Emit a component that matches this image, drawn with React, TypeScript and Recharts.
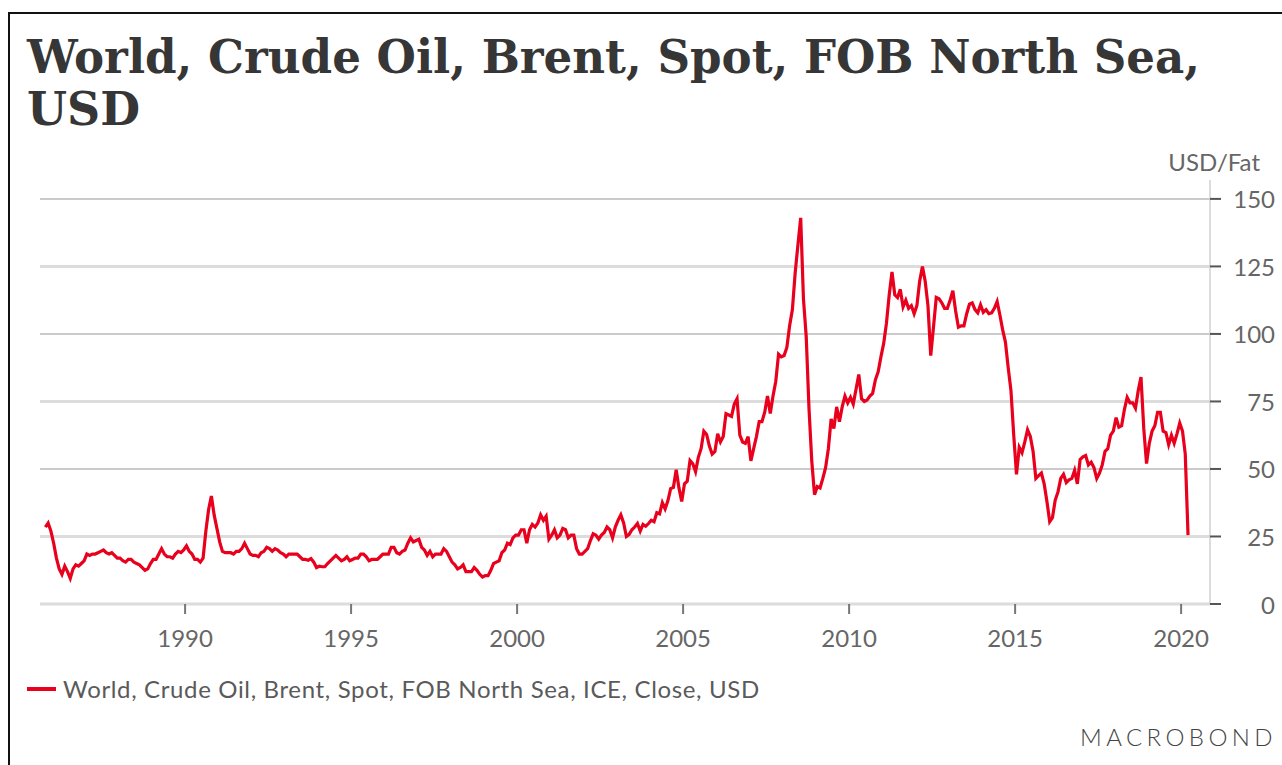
import React from "react";
import { LineChart, Line, XAxis, YAxis, CartesianGrid } from "recharts";

// Brent spot, USD per barrel, monthly (mid-month)
const firstYear = 1985;
const firstMonth = 10; // October

const brent1985 = [28.5, 30, 27];
const brent1986to1989 = [
  22.5, 17, 13, 11, 14, 12, 9.5, 13, 14.5, 14, 15, 16,
  18.5, 18, 18.5, 18.5, 19, 19.5, 20, 19, 18.5, 19, 18, 17,
  17, 16, 15.5, 16.5, 16.5, 15.5, 15, 14.5, 13.5, 12.5, 13, 15,
  16.5, 16.5, 18.5, 20.5, 18.5, 17.5, 17.5, 17, 18.5, 19.5, 19, 20,
];
const brent1990s = [
  21.5, 19.5, 18.5, 16.5, 16.5, 15.5, 17, 27, 35, 40, 33, 28,
  23, 19.5, 19, 19, 19, 18.5, 19.5, 19.5, 20.5, 22.5, 20.5, 18.5,
  18, 18, 17.5, 19, 19.5, 21, 20.5, 19.5, 20.5, 20, 19, 18.5,
  17.5, 18.5, 18.5, 18.5, 18.5, 17.5, 16.5, 16.5, 16.2, 16.8, 15.5, 13.5,
  14, 13.8, 13.8, 15, 16, 17, 18, 17, 16, 16.5, 17.5, 16,
  16.5, 17, 17, 18.5, 18.5, 17.5, 16, 16.5, 16.5, 16.5, 17.5, 18.5,
  18.5, 18.5, 21, 21, 19, 18.5, 19.5, 20, 22.5, 24.5, 23, 23.5,
  24, 21, 20, 18, 19.5, 17.5, 18.5, 18.5, 18.5, 20.5, 19.5, 17.5,
  15.5, 14.5, 13, 13.5, 14.5, 12, 12, 12, 13.5, 12.5, 11, 10,
  10.5, 10.5, 12.5, 15, 15.5, 16, 19, 20, 22.5, 22, 24.5, 25.5,
];
const brent2000s = [
  25.5, 27.5, 27.5, 22.5, 27.5, 29.5, 28.5, 30, 33, 31, 32.5, 24,
  25.5, 27.5, 24.5, 25.5, 28, 27.5, 24.5, 25.5, 25.5, 20.5, 18.5, 18.5,
  19.5, 20.5, 23.5, 26, 25.5, 24, 25.5, 26.5, 28.5, 27.5, 24.5, 28.5,
  31, 33, 30, 25, 25.8, 27.5, 28.5, 29.8, 27, 29.5, 28.8, 29.8,
  31, 30.5, 33.8, 33.4, 37.5, 35.2, 38.2, 42.7, 43.2, 49.7, 43, 38,
  44.5, 45.5, 53.1, 51.9, 49, 54.3, 57.5, 64, 62.8, 58.5, 55.5, 56.5,
  63, 60, 62, 70.5, 70, 69.5, 74, 76, 62.5, 60, 59.5, 62,
  53, 57.5, 62, 67.5, 67.5, 71, 77, 70.5, 77, 82.5, 92.5, 91.5,
  92, 95, 103, 109, 122.5, 133, 143, 113, 99, 72.5, 53, 40.5,
  43.5, 43, 46.5, 50.5, 57.5, 68.5, 65, 73, 67.5, 73, 77, 74.5,
];
const brent2010s = [
  76.5, 74, 79.5, 85, 76, 75, 75.5, 77, 78, 83, 86, 91.5,
  96.5, 104, 114.5, 123, 114.5, 113.5, 116.5, 110, 112.5, 109.5, 110.5, 107.5,
  110.5, 119.5, 125, 119.5, 110.5, 92, 102.5, 113.5, 113, 111.5, 109.5, 109.5,
  112.5, 116, 108.5, 102.5, 103, 103, 107.5, 111, 111.5, 109, 107.8, 110.8,
  108, 109, 107.5, 107.8, 109.5, 112, 107, 101.5, 97, 87.5, 79, 62.5,
  48, 58, 56, 60, 64.5, 62, 56.5, 46.5, 47.5, 48.5, 44.5, 38,
  30.5, 32, 38.5, 41.5, 46.5, 48, 45, 46, 46.5, 49.5, 44.5, 53.5,
  54.5, 55, 51.5, 52.5, 50.5, 46.5, 48.5, 51.5, 56.5, 57.5, 62.5, 64,
  69, 65.5, 66, 72, 76.5, 74.5, 74.5, 72.5, 79, 84, 65, 52,
  59.5, 64, 66, 71, 71, 64, 63.5, 59, 62.5, 59.5, 63, 67,
];
const brent2020 = [64, 55.5, 25.5];

const yearTicks = [1990, 1995, 2000, 2005, 2010, 2015, 2020];
const priceTicks = [0, 25, 50, 75, 100, 125, 150];
const lightGridValues = [0, 25, 75, 125];
const darkGridValues = [50, 100, 150];

const title1 = "World, Crude Oil, Brent, Spot, FOB North Sea,";
const title2 = "USD";
const unitLabel = "USD/Fat";
const seriesName = "World, Crude Oil, Brent, Spot, FOB North Sea, ICE, Close, USD";
const brand = "MACROBOND";

const prices = [...brent1985, ...brent1986to1989, ...brent1990s, ...brent2000s, ...brent2010s, ...brent2020];
const data = prices.map((price, i) => ({
  t: firstYear + (firstMonth - 1 + i + 0.5) / 12,
  price,
}));

const RED = "#e8001c";
const TEXT = "#666666";
const FONT = "Lato, 'Open Sans', sans-serif";

const PriceTick = (props: any) => {
  const { x, y, payload } = props;
  return (
    <text x={x + 52} y={y} textAnchor="end" dominantBaseline="central" fill={TEXT} fontSize={24} fontFamily={FONT}>
      {payload.value}
    </text>
  );
};

export default function App() {
  return (
    <div style={{ position: "absolute", left: 0, top: 0, width: 1282, height: 765, background: "#fff", overflow: "hidden" }}>
      <div style={{ position: "absolute", left: 8, top: 12, width: 1290, height: 770, borderLeft: "2px solid #111", borderTop: "2px solid #111" }} />
      <svg width={1282} height={140} style={{ position: "absolute", left: 0, top: 0 }}>
        <text x={27} y={73} fontFamily="'DejaVu Serif', serif" fontWeight="bold" fontSize={46} fill="#363636" textLength={1173} lengthAdjust="spacingAndGlyphs">
          {title1}
        </text>
        <text x={27} y={125} fontFamily="'DejaVu Serif', serif" fontWeight="bold" fontSize={46} fill="#363636" textLength={113} lengthAdjust="spacingAndGlyphs">
          {title2}
        </text>
      </svg>
      <div style={{ position: "absolute", left: 1120, width: 140, top: 147, textAlign: "right", fontFamily: FONT, fontSize: 24, color: TEXT }}>
        {unitLabel}
      </div>
      <div style={{ position: "absolute", left: 0, top: 0 }}>
        <LineChart width={1282} height={765} data={data} margin={{ top: 180, right: 0, left: 40, bottom: 111 }}>
          <CartesianGrid vertical={false} horizontalValues={lightGridValues} stroke="#dcdcdc" strokeWidth={3} />
          <CartesianGrid vertical={false} horizontalValues={darkGridValues} stroke="#b8b8b8" strokeWidth={1.5} />
          <XAxis
            dataKey="t"
            type="number"
            domain={[1985.63, 2020.87]}
            ticks={yearTicks}
            allowDataOverflow
            axisLine={false}
            tickLine={{ stroke: "#777", strokeWidth: 2 }}
            tickSize={10}
            tickMargin={16}
            height={50}
            tick={{ fill: TEXT, fontSize: 24, fontFamily: FONT }}
          />
          <YAxis
            orientation="right"
            type="number"
            domain={[0, 157]}
            ticks={priceTicks}
            allowDataOverflow
            width={72}
            axisLine={{ stroke: "#d0d0d0", strokeWidth: 1.5 }}
            tickLine={{ stroke: "#555", strokeWidth: 2 }}
            tickSize={11}
            tick={<PriceTick />}
          />
          <Line type="linear" dataKey="price" stroke={RED} strokeWidth={3.2} dot={false} isAnimationActive={false} />
        </LineChart>
      </div>
      <div style={{ position: "absolute", left: 27, top: 674, display: "flex", alignItems: "center", fontFamily: FONT, fontSize: 24, letterSpacing: 0.65, color: "#5a5a5a" }}>
        <span style={{ display: "inline-block", width: 29, height: 4, background: RED, marginRight: 7 }} />
        <span>{seriesName}</span>
      </div>
      <div style={{ position: "absolute", right: 5, top: 722, fontFamily: FONT, fontSize: 24, fontWeight: 300, letterSpacing: 4.4, color: "#444" }}>
        {brand}
      </div>
    </div>
  );
}
